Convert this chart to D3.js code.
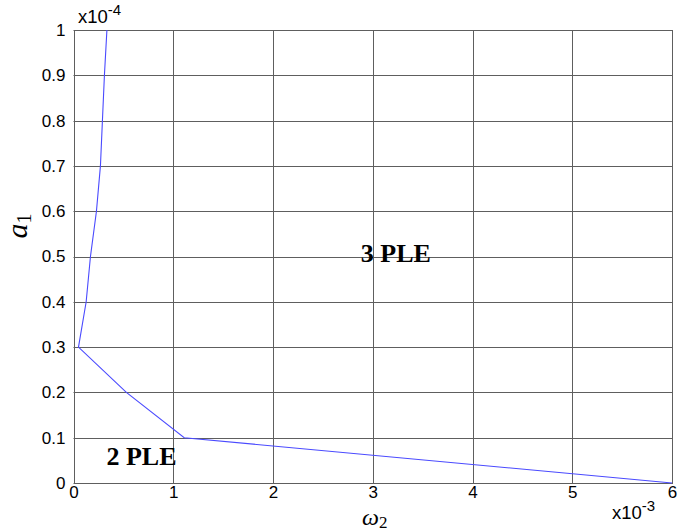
<!DOCTYPE html>
<html><head><meta charset="utf-8">
<script src="https://cdn.jsdelivr.net/npm/d3@7"></script>
<style>body{margin:0;background:#fff}svg{display:block}</style>
</head><body>
<script>
// data (x in units of 1e-3, y in units of 1e-4)
const omega2 = [0.335, 0.31, 0.29, 0.27, 0.23, 0.17, 0.127, 0.05, 0.53, 1.11, 6.0];
const a1     = [1.0,   0.9,  0.8,  0.7,  0.6,  0.5,  0.4,   0.3,  0.2,  0.1,  0.0];
const xTicks = [0, 1, 2, 3, 4, 5, 6];
const yTicks = [0, 0.1, 0.2, 0.3, 0.4, 0.5, 0.6, 0.7, 0.8, 0.9, 1];
const regionLabels = [{text: "3 PLE", x: 2.88, y: 0.5}, {text: "2 PLE", x: 0.33, y: 0.05}];

const W = 694, H = 532;
const L = 73.5, R = 672, T = 30, B = 483;
const svg = d3.select("body").append("svg").attr("width", W).attr("height", H);
const x = d3.scaleLinear().domain([0, 6]).range([L, R]);
const y = d3.scaleLinear().domain([0, 1]).range([B, T]);
const grid = "#5e5e5e";

// grid
svg.append("g").selectAll("line").data(xTicks).join("line")
  .attr("x1", d => Math.round(x(d)) + 0.5).attr("x2", d => Math.round(x(d)) + 0.5)
  .attr("y1", T).attr("y2", B).attr("stroke", grid).attr("stroke-width", 1);
svg.append("g").selectAll("line").data(yTicks).join("line")
  .attr("y1", d => Math.round(y(d)) + 0.5).attr("y2", d => Math.round(y(d)) + 0.5)
  .attr("x1", L).attr("x2", R).attr("stroke", grid).attr("stroke-width", 1);
svg.append("rect").attr("x", Math.round(L) + 0.5).attr("y", T + 0.5)
  .attr("width", Math.round(R) - Math.round(L)).attr("height", B - T)
  .attr("fill", "none").attr("stroke", grid);

// axes (tick labels)
const xAxis = d3.axisBottom(x).tickValues(xTicks).tickFormat(d3.format("d")).tickSize(0).tickPadding(3);
const gx = svg.append("g").attr("transform", `translate(0,${B})`).call(xAxis);
const yAxis = d3.axisLeft(y).tickValues(yTicks).tickFormat(d => d === 0 ? "0" : d === 1 ? "1" : d3.format(".1f")(d)).tickSize(0).tickPadding(8);
const gy = svg.append("g").attr("transform", `translate(${L},0)`).call(yAxis);
[gx, gy].forEach(g => {
  g.select(".domain").remove();
  g.selectAll("text").attr("font-family", "Liberation Sans, Arial, sans-serif").attr("font-size", 17).attr("fill", "#000");
});

// line
svg.append("path").datum(omega2.map((v, i) => [v, a1[i]]))
  .attr("d", d3.line().x(d => x(d[0])).y(d => y(d[1])))
  .attr("fill", "none").attr("stroke", "#4a4aff").attr("stroke-width", 1.1);

// region labels
svg.append("g").selectAll("text").data(regionLabels).join("text")
  .attr("x", d => x(d.x)).attr("y", d => y(d.y) + 5)
  .attr("font-family", "Liberation Serif, Times New Roman, serif").attr("font-weight", "bold")
  .attr("font-size", 26).text(d => d.text);

// exponent labels
const ex1 = svg.append("text").attr("x", 78).attr("y", 23)
  .attr("font-family", "Liberation Sans, Arial, sans-serif").attr("font-size", 18.5);
ex1.append("tspan").text("x10");
ex1.append("tspan").attr("dy", -8).attr("font-size", 15).text("-4");
const ex2 = svg.append("text").attr("x", 612).attr("y", 519)
  .attr("font-family", "Liberation Sans, Arial, sans-serif").attr("font-size", 18.5);
ex2.append("tspan").text("x10");
ex2.append("tspan").attr("dy", -8).attr("font-size", 15).text("-3");

// axis titles
const xt = svg.append("text").attr("x", (L + R) / 2 + 2).attr("y", 525).attr("text-anchor", "middle")
  .attr("font-family", "Liberation Serif, Times New Roman, serif").attr("font-size", 24);
xt.append("tspan").attr("font-style", "italic").text("ω");
xt.append("tspan").attr("font-size", 17).attr("dy", 3).text("2");
const yt = svg.append("text").attr("transform", "translate(27,226) rotate(-90)").attr("text-anchor", "middle")
  .attr("font-family", "Liberation Serif, Times New Roman, serif").attr("font-size", 30);
yt.append("tspan").attr("font-style", "italic").text("a");
yt.append("tspan").attr("font-size", 20).attr("dy", 4).text("1");
</script>
</body></html>
